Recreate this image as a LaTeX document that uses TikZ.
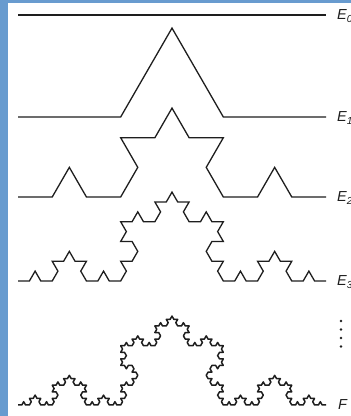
\documentclass[tikz,border=0pt]{standalone}
\usepackage{fontspec}
\setmainfont{Liberation Sans}
\usetikzlibrary{lindenmayersystems}
\definecolor{frameblue}{RGB}{104,155,207}
\definecolor{ink}{RGB}{30,30,30}
\pgfdeclarelindenmayersystem{Koch}{\rule{F -> F+F--F+F}}
\tikzset{
  curve/.style={draw=ink, line width=1.3pt},
  lab/.style={anchor=west, inner sep=0pt, font=\fontsize{14.5}{15}\selectfont\itshape, text=ink},
  dotmark/.style={fill=ink, circle, inner sep=0pt, minimum size=2.8pt}
}
\begin{document}
\begin{tikzpicture}[x=1pt,y=1pt]
\useasboundingbox (0,0) rectangle (351,416);
\clip (0,0) rectangle (351,416);
\fill[white] (0,0) rectangle (351,416);
% frame
\fill[frameblue] (0,0) rectangle (8,416);
\fill[frameblue] (0,413) rectangle (351,416);
% E0
\coordinate (a0) at (18,401);
\coordinate (b0) at (326,401);
\draw[curve] (a0) -- (b0);
% E1
\begin{scope}[shift={(18,299)}]
\draw[curve, lindenmayer system={Koch, axiom=F, order=1, step=102.6667pt, angle=60}] lindenmayer system;
\end{scope}
% E2
\begin{scope}[shift={(18,219)}]
\draw[curve, lindenmayer system={Koch, axiom=F, order=2, step=34.2222pt, angle=60}] lindenmayer system;
\end{scope}
% E3
\begin{scope}[shift={(18,135)}]
\draw[curve, lindenmayer system={Koch, axiom=F, order=3, step=11.4074pt, angle=60}] lindenmayer system;
\end{scope}
% F
\begin{scope}[shift={(18,11)}]
\draw[curve, line width=1.5pt, line join=round, lindenmayer system={Koch, axiom=F, order=4, step=3.80247pt, angle=60}] lindenmayer system;
\end{scope}
% labels
\node[lab] (l0) at (337,400) {E\textsubscript{0}};
\node[lab] (l1) at (337,298) {E\textsubscript{1}};
\node[lab] (l2) at (337,218) {E\textsubscript{2}};
\node[lab] (l3) at (337,134) {E\textsubscript{3}};
\node[lab] (lf) at (338,11) {F};
% dots
\node[dotmark] (d1) at (341,95) {};
\node[dotmark] (d2) at (341,86.5) {};
\node[dotmark] (d3) at (341,78) {};
\node[dotmark] (d4) at (341,69.5) {};
\end{tikzpicture}
\end{document}
